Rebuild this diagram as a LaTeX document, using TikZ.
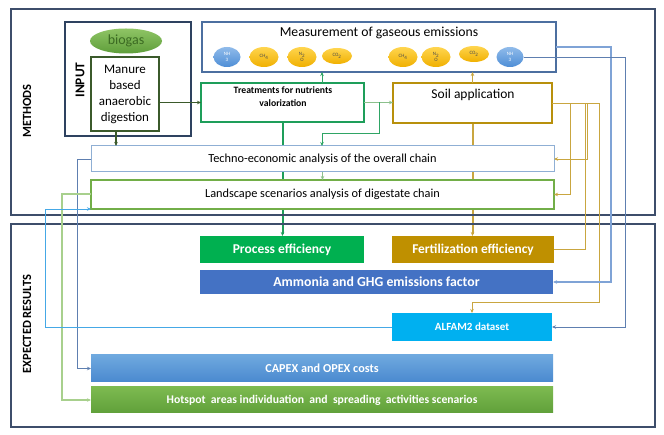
\documentclass[tikz,border=0pt]{standalone}
\usepackage{fontspec}
\setmainfont{Carlito}
\usetikzlibrary{arrows.meta,calc,shapes.geometric,backgrounds}
\definecolor{frameC}{HTML}{3D4E6B}
\definecolor{inputC}{HTML}{2E4260}
\definecolor{manureC}{HTML}{3B5A2B}
\definecolor{measC}{HTML}{4C6FA0}
\definecolor{treatC}{HTML}{1E9E5A}
\definecolor{soilC}{HTML}{B8900C}
\definecolor{technoC}{HTML}{8FAFD4}
\definecolor{landC}{HTML}{72AE48}
\definecolor{procC}{HTML}{00B050}
\definecolor{fertC}{HTML}{BF9000}
\definecolor{ammC}{HTML}{4472C4}
\definecolor{alfC}{HTML}{00B0F0}
\definecolor{capT}{HTML}{6FA9DF}
\definecolor{capB}{HTML}{4A89CF}
\definecolor{hotT}{HTML}{7DBA50}
\definecolor{hotB}{HTML}{60A03A}
\definecolor{bioT}{HTML}{8FC465}
\definecolor{bioB}{HTML}{5E9E3A}
\definecolor{bioTxt}{HTML}{3B6A22}
\definecolor{yelT}{HTML}{FFD54F}
\definecolor{yelB}{HTML}{F0B000}
\definecolor{bluT}{HTML}{90BBEA}
\definecolor{bluB}{HTML}{4E8ED6}
\definecolor{goldL}{HTML}{C9A640}
\definecolor{steelL}{HTML}{5E7FB0}
\definecolor{blueL}{HTML}{7FA3D6}
\definecolor{cyanL}{HTML}{45A8E6}
\definecolor{lgreenL}{HTML}{A8D08D}
\definecolor{tgreenL}{HTML}{2FA565}
\definecolor{pgreenL}{HTML}{8CC08C}
\tikzset{
  box/.style={draw, fill=white, anchor=north west, inner sep=0pt, outer sep=0pt},
  resbox/.style={anchor=north west, inner sep=0pt, outer sep=0pt, text=white, font=\bfseries},
  gas/.style={ellipse, inner sep=0pt, outer sep=0pt, minimum width=29, minimum height=20, top color=yelT, bottom color=yelB, text=black!70, font=\fontsize{5}{5.5}\selectfont, align=center},
  gasb/.style={gas, top color=bluT, bottom color=bluB, text=white, minimum width=27},
  arr/.style={-{Stealth[length=4pt,width=3.5pt]}},
  conn/.style={line width=0.9pt},
}
\begin{document}
\begin{tikzpicture}[x=1pt,y=-1pt]
\useasboundingbox (0,0) rectangle (664,435);
% frames
\node[draw=frameC, line width=1.6pt, anchor=north west, minimum width=644, minimum height=206, inner sep=0pt] (methods) at (10,8) {};
\node[draw=frameC, line width=1.6pt, anchor=north west, minimum width=644, minimum height=203, inner sep=0pt] (results) at (10,223) {};
\node[rotate=90, font=\bfseries\fontsize{12.5}{14}\selectfont] (methodslbl) at (27,111) {METHODS};
\node[rotate=90, font=\bfseries\fontsize{12.5}{14}\selectfont] (resultslbl) at (27,324) {EXPECTED RESULTS};
% input
\node[box, draw=inputC, line width=1.5pt, minimum width=126, minimum height=114] (input) at (65,22) {};
\node[rotate=90, font=\bfseries\fontsize{13.4}{15}\selectfont] (inputlbl) at (80,80) {INPUT};
\node[ellipse, top color=bioT, bottom color=bioB, minimum width=72, minimum height=25, inner sep=0pt, text=bioTxt, font=\fontsize{14}{16}\selectfont] (biogas) at (126,41) {biogas};
\node[box, draw=manureC, line width=2pt, minimum width=68, minimum height=74, align=center, font=\fontsize{13}{16}\selectfont] (manure) at (91,57) {Manure\\based\\anaerobic\\digestion};
% measurement
\node[box, draw=measC, line width=1.5pt, minimum width=354, minimum height=50] (meas) at (202,22) {};
\node[font=\fontsize{13.7}{15}\selectfont] (meastitle) at (379,33) {Measurement of gaseous emissions};
\node[gasb] (nh3a) at (227,57) {NH\\3};
\node[gas] (ch4a) at (264,57) {CH\textsubscript{4}};
\node[gas] (n2oa) at (302,57) {N\textsubscript{2}\\O};
\node[gas, minimum width=30, minimum height=16] (co2a) at (337,56) {CO\textsubscript{2}};
\node[gas] (ch4b) at (403,57) {CH\textsubscript{4}};
\node[gas] (n2ob) at (436,57) {N\textsubscript{2}\\O};
\node[gas, minimum width=30, minimum height=16] (co2b) at (474,54) {CO\textsubscript{2}};
\node[gasb] (nh3b) at (510,57) {NH\\3};
% treatments and soil
\node[box, draw=treatC, line width=2pt, minimum width=163, minimum height=39] (treat) at (201,83) {};
\node[font=\bfseries\fontsize{9.7}{12.5}\selectfont, align=center] (treatlbl) at (283,96.5) {Treatments for nutrients\\valorization};
\node[box, draw=soilC, line width=2pt, minimum width=159, minimum height=40] (soil) at (393,83) {};
\node[font=\fontsize{13.5}{15}\selectfont] (soillbl) at (473,95) {Soil application};
% analysis boxes
\node[box, draw=technoC, line width=1pt, minimum width=463, minimum height=26] (techno) at (91,146) {};
\node[font=\fontsize{12.3}{14}\selectfont] (technolbl) at (techno.center) {Techno-economic analysis of the overall chain};
\node[box, draw=landC, line width=1.5pt, minimum width=463, minimum height=29] (land) at (91,180) {};
\node[font=\fontsize{12.3}{14}\selectfont] (landlbl) at (land.center) {Landscape scenarios analysis of digestate chain};
% results
\node[resbox, fill=procC, minimum width=164, minimum height=27] (process) at (200,236) {};
\node[text=white, font=\bfseries\fontsize{13.5}{15}\selectfont] (processlbl) at (process.center) {Process efficiency};
\node[resbox, fill=fertC, minimum width=162, minimum height=27] (fert) at (392,236) {};
\node[text=white, font=\bfseries\fontsize{13.4}{15}\selectfont] (fertlbl) at (fert.center) {Fertilization efficiency};
\node[resbox, fill=ammC, minimum width=353, minimum height=24] (amm) at (200,270) {};
\node[text=white, font=\bfseries\fontsize{13.8}{15}\selectfont] (ammlbl) at (amm.center) {Ammonia and GHG emissions factor};
\node[resbox, fill=alfC, minimum width=160, minimum height=28] (alfam) at (392,313) {};
\node[text=white, font=\bfseries\fontsize{11}{13}\selectfont] (alfamlbl) at (alfam.center) {ALFAM2 dataset};
\node[resbox, top color=capT, bottom color=capB, minimum width=462, minimum height=27] (capex) at (91,355) {};
\node[text=white, font=\bfseries\fontsize{12.2}{14}\selectfont] (capexlbl) at (capex.center) {CAPEX and OPEX costs};
\node[resbox, top color=hotT, bottom color=hotB, minimum width=462, minimum height=26] (hot) at (91,387) {};
\node[text=white, font=\bfseries\fontsize{11.7}{13}\selectfont] (hotlbl) at (hot.center) {Hotspot\ \ areas individuation\ \ and\ \ spreading\ \ activities scenarios};
% connectors behind boxes
\begin{scope}[on background layer]
\draw[treatC, line width=2pt, arr] (treat.south) -- (treat.south |- process.north);
\draw[goldL, line width=2pt, arr] (soil.south) -- (soil.south |- fert.north);
\end{scope}
% connectors
\draw[manureC, conn, line width=1.3pt, arr] (manure.east |- treat.west) -- (treat.west);
\draw[manureC, conn, line width=1.3pt, arr] ([xshift=-9]manure.south) -- ([xshift=-9]manure.south |- techno.north);
\draw[tgreenL, conn, arr] ([xshift=39.5]treat.north) -- ([xshift=39.5]treat.north |- meas.south);
\draw[pgreenL, conn, arr] (treat.east) -- (treat.east -| soil.west);
\draw[tgreenL, conn, arr] ([xshift=15]treat.east) -- ++(0,30.5) -| ([xshift=39.5]treat.south |- techno.north);
\draw[pgreenL, conn, arr] (techno.south) -- (land.north);
\draw[goldL, conn, line width=1.3pt, arr] (soil.north) -- (soil.north |- meas.south);
\draw[goldL, conn, arr] (soil.east) -- ++(18,0) |- (land.east);
\draw[goldL, conn, arr] (soil.east) -- ++(35,0) |- (techno.east);
\draw[goldL, conn] (soil.east) -- ++(33,0) |- (fert.east);
\draw[goldL, conn, arr] (soil.east) -- ++(47,0) -- ++(0,199) -| (alfam.north);
\draw[blueL, conn, line width=1.2pt, arr] (meas.east) -- ++(55,0) |- (amm.east);
\draw[steelL, conn, arr] (nh3b.east) -- ++(102,0) |- (alfam.east);
\draw[steelL, conn, arr] (techno.west) -- ++(-14,0) |- (capex.west);
\draw[lgreenL, line width=2pt, arr] (land.west) -- ++(-29,0) |- (hot.west);
\draw[cyanL, conn, arr] (alfam.west) -| ([xshift=-46]land.south west) -- (land.south west);
\end{tikzpicture}
\end{document}
